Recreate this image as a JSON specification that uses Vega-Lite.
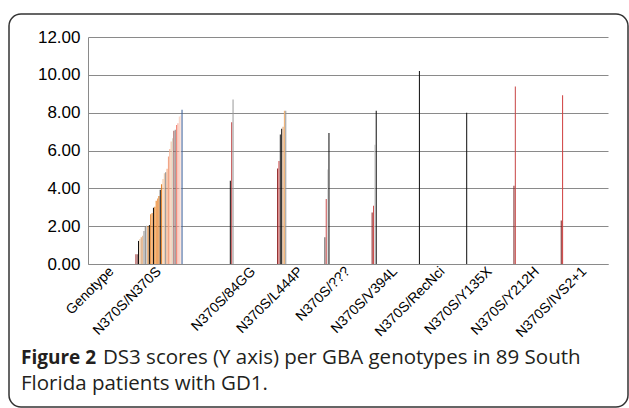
{
  "$schema": "https://vega.github.io/schema/vega-lite/v6.json",
  "width": 619,
  "height": 393,
  "autosize": {"type": "none"},
  "padding": {"left": 9, "top": 14, "right": 1, "bottom": 1},
  "background": "#ffffff",
  "data": {
    "values": [
      {"id": 1, "genotype": "N370S/N370S", "slot": 0, "ds3": 0.52},
      {"id": 2, "genotype": "N370S/N370S", "slot": 1, "ds3": 0.52},
      {"id": 3, "genotype": "N370S/N370S", "slot": 2, "ds3": 1.22},
      {"id": 4, "genotype": "N370S/N370S", "slot": 3, "ds3": 1.32},
      {"id": 5, "genotype": "N370S/N370S", "slot": 4, "ds3": 1.41},
      {"id": 6, "genotype": "N370S/N370S", "slot": 5, "ds3": 1.5},
      {"id": 7, "genotype": "N370S/N370S", "slot": 6, "ds3": 1.75},
      {"id": 8, "genotype": "N370S/N370S", "slot": 7, "ds3": 2.01},
      {"id": 9, "genotype": "N370S/N370S", "slot": 8, "ds3": 2.03},
      {"id": 10, "genotype": "N370S/N370S", "slot": 9, "ds3": 2.01},
      {"id": 11, "genotype": "N370S/N370S", "slot": 10, "ds3": 2.06},
      {"id": 12, "genotype": "N370S/N370S", "slot": 11, "ds3": 2.63},
      {"id": 13, "genotype": "N370S/N370S", "slot": 12, "ds3": 2.7},
      {"id": 14, "genotype": "N370S/N370S", "slot": 13, "ds3": 2.98},
      {"id": 15, "genotype": "N370S/N370S", "slot": 14, "ds3": 3.02},
      {"id": 16, "genotype": "N370S/N370S", "slot": 15, "ds3": 3.35},
      {"id": 17, "genotype": "N370S/N370S", "slot": 16, "ds3": 3.46},
      {"id": 18, "genotype": "N370S/N370S", "slot": 17, "ds3": 3.6},
      {"id": 19, "genotype": "N370S/N370S", "slot": 18, "ds3": 3.92},
      {"id": 20, "genotype": "N370S/N370S", "slot": 19, "ds3": 4.22},
      {"id": 21, "genotype": "N370S/N370S", "slot": 20, "ds3": 4.5},
      {"id": 22, "genotype": "N370S/N370S", "slot": 21, "ds3": 4.8},
      {"id": 23, "genotype": "N370S/N370S", "slot": 22, "ds3": 4.85},
      {"id": 24, "genotype": "N370S/N370S", "slot": 23, "ds3": 5.03},
      {"id": 25, "genotype": "N370S/N370S", "slot": 24, "ds3": 5.68},
      {"id": 26, "genotype": "N370S/N370S", "slot": 25, "ds3": 6.08},
      {"id": 27, "genotype": "N370S/N370S", "slot": 26, "ds3": 6.47},
      {"id": 28, "genotype": "N370S/N370S", "slot": 27, "ds3": 6.65},
      {"id": 29, "genotype": "N370S/N370S", "slot": 28, "ds3": 7.05},
      {"id": 30, "genotype": "N370S/N370S", "slot": 29, "ds3": 7.1},
      {"id": 31, "genotype": "N370S/N370S", "slot": 30, "ds3": 7.35},
      {"id": 32, "genotype": "N370S/N370S", "slot": 31, "ds3": 7.44},
      {"id": 33, "genotype": "N370S/N370S", "slot": 32, "ds3": 7.8},
      {"id": 34, "genotype": "N370S/N370S", "slot": 33, "ds3": 7.85},
      {"id": 35, "genotype": "N370S/N370S", "slot": 34, "ds3": 8.15},
      {"id": 36, "genotype": "N370S/84GG", "slot": 0, "ds3": 4.4},
      {"id": 37, "genotype": "N370S/84GG", "slot": 1, "ds3": 7.5},
      {"id": 38, "genotype": "N370S/84GG", "slot": 2, "ds3": 8.7},
      {"id": 39, "genotype": "N370S/L444P", "slot": 0, "ds3": 5.05},
      {"id": 40, "genotype": "N370S/L444P", "slot": 1, "ds3": 5.45},
      {"id": 41, "genotype": "N370S/L444P", "slot": 2, "ds3": 6.85},
      {"id": 42, "genotype": "N370S/L444P", "slot": 3, "ds3": 7.15},
      {"id": 43, "genotype": "N370S/L444P", "slot": 4, "ds3": 7.25},
      {"id": 44, "genotype": "N370S/L444P", "slot": 5, "ds3": 8.1},
      {"id": 45, "genotype": "N370S/L444P", "slot": 6, "ds3": 8.1},
      {"id": 46, "genotype": "N370S/???", "slot": 0, "ds3": 1.42},
      {"id": 47, "genotype": "N370S/???", "slot": 1, "ds3": 3.44},
      {"id": 48, "genotype": "N370S/???", "slot": 2, "ds3": 5.0},
      {"id": 49, "genotype": "N370S/???", "slot": 3, "ds3": 6.92},
      {"id": 50, "genotype": "N370S/V394L", "slot": 0, "ds3": 2.72},
      {"id": 51, "genotype": "N370S/V394L", "slot": 1, "ds3": 3.08},
      {"id": 52, "genotype": "N370S/V394L", "slot": 2, "ds3": 6.3},
      {"id": 53, "genotype": "N370S/V394L", "slot": 3, "ds3": 8.1},
      {"id": 54, "genotype": "N370S/RecNci", "slot": 0, "ds3": 10.2},
      {"id": 55, "genotype": "N370S/Y135X", "slot": 0, "ds3": 8.0},
      {"id": 56, "genotype": "N370S/Y212H", "slot": 0, "ds3": 4.13},
      {"id": 57, "genotype": "N370S/Y212H", "slot": 1, "ds3": 9.38},
      {"id": 58, "genotype": "N370S/IVS2+1", "slot": 0, "ds3": 2.3},
      {"id": 59, "genotype": "N370S/IVS2+1", "slot": 1, "ds3": 8.92}
    ]
  },
  "mark": {"type": "bar", "opacity": 1},
  "encoding": {
    "x": {
      "field": "genotype",
      "type": "nominal",
      "scale": {
        "domain": ["Genotype", "N370S/N370S", "blank", "N370S/84GG", "N370S/L444P", "N370S/???", "N370S/V394L", "N370S/RecNci", "N370S/Y135X", "N370S/Y212H", "N370S/IVS2+1"],
        "range": [79, 599],
        "paddingInner": 0,
        "paddingOuter": 0
      },
      "axis": {
        "title": null,
        "offset": -143,
        "labelAngle": -45,
        "labelAlign": "right",
        "labelBaseline": "middle",
        "labelPadding": 5,
        "labelFont": "Liberation Sans",
        "labelFontSize": 14,
        "labelColor": "#000000",
        "labelExpr": "datum.value == 'blank' ? '' : datum.value",
        "ticks": false,
        "domainColor": "#8a8a8a",
        "domainWidth": 1,
        "grid": false
      }
    },
    "xOffset": {
      "field": "slot",
      "type": "ordinal",
      "scale": {
        "domain": [0,1,2,3,4,5,6,7,8,9,10,11,12,13,14,15,16,17,18,19,20,21,22,23,24,25,26,27,28,29,30,31,32,33,34],
        "paddingInner": 0.25,
        "paddingOuter": 0
      }
    },
    "y": {
      "field": "ds3",
      "type": "quantitative",
      "scale": {"domain": [0, 12], "range": [250, 23], "nice": false},
      "axis": {
        "title": null,
        "offset": -79,
        "values": [0, 2, 4, 6, 8, 10, 12],
        "format": ".2f",
        "labelFont": "Liberation Sans",
        "labelFontSize": 17,
        "labelColor": "#000000",
        "labelPadding": 8,
        "ticks": false,
        "domainColor": "#8a8a8a",
        "grid": true,
        "gridColor": "#8a8a8a",
        "gridWidth": 1
      }
    },
    "color": {
      "field": "id",
      "type": "nominal",
      "legend": null,
      "scale": {
        "domain": [1,2,3,4,5,6,7,8,9,10,11,12,13,14,15,16,17,18,19,20,21,22,23,24,25,26,27,28,29,30,31,32,33,34,35,36,37,38,39,40,41,42,43,44,45,46,47,48,49,50,51,52,53,54,55,56,57,58,59],
        "range": ["#b85a5a","#7a3030","#111111","#e8c8a0","#d8a070","#e8b890","#999999","#808080","#c8c8c8","#e07818","#111111","#e07818","#f08a30","#111111","#e07818","#e98020","#f0a060","#e07818","#111111","#e07818","#f5c8a0","#e8c0a0","#888888","#f5a070","#f0a080","#f5b090","#f0c0a0","#d8d8c8","#a05050","#888080","#f08070","#f5a090","#f8d0c0","#fbe0d8","#3a5f9a","#111111","#c04848","#9a9a9a","#8b2020","#d04848","#222222","#111111","#d8a070","#f0b070","#999999","#555555","#c85050","#d8d8d8","#111111","#8b2020","#d05050","#cccccc","#111111","#111111","#111111","#7a2828","#c84848","#7a2020","#d04040"]
      }
    }
  },
  "title": {
    "text": "Figure 2",
    "subtitle": ["\u200b\u2003\u2003\u2003\u2002\u2009\u2009\u2009DS3 scores (Y axis) per GBA genotypes in 89 South", "Florida patients with GD1."],
    "orient": "bottom",
    "anchor": "start",
    "frame": "group",
    "offset": -58,
    "dx": 12,
    "font": "Open Sans",
    "fontSize": 19,
    "fontWeight": "bold",
    "color": "#231f20",
    "subtitleFont": "Open Sans",
    "subtitleFontSize": 20.5,
    "subtitleFontWeight": "normal",
    "subtitleColor": "#231f20",
    "subtitlePadding": -20,
    "subtitleLineHeight": 26
  },
  "config": {
    "view": {"stroke": "#333333", "strokeWidth": 1.5, "cornerRadius": 12},
    "axis": {"labelOverlap": false}
  }
}
